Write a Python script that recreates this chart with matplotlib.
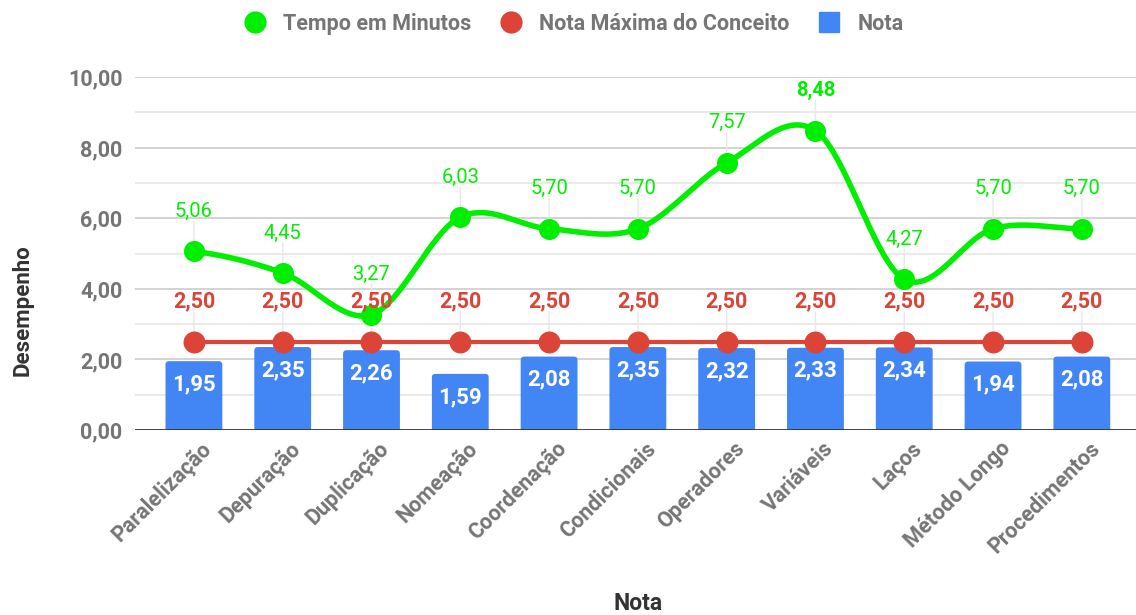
import numpy as np
import matplotlib
matplotlib.use("Agg")
import matplotlib.pyplot as plt
import matplotlib.transforms as mtransforms
from matplotlib.lines import Line2D
from matplotlib.patches import FancyBboxPatch

categorias = ["Paralelização", "Depuração", "Duplicação", "Nomeação", "Coordenação",
              "Condicionais", "Operadores", "Variáveis", "Laços", "Método Longo", "Procedimentos"]
tempo = [5.06, 4.45, 3.27, 6.03, 5.70, 5.70, 7.57, 8.48, 4.27, 5.70, 5.70]
nota_max = [2.50] * 11
nota = [1.95, 2.35, 2.26, 1.59, 2.08, 2.35, 2.32, 2.33, 2.34, 1.94, 2.08]
y_ticks = [0, 2, 4, 6, 8, 10]

VERDE = "#00ee00"
VERMELHO = "#db4437"
AZUL = "#4285f4"
CINZA = "#757575"

plt.rcParams['font.family'] = ['Roboto', 'DejaVu Sans']


def fmt(v):
    return f"{v:.2f}".replace(".", ",")


def catmull_rom(xs, ys, n=40):
    # curva suave passando pelos pontos (como o curveType 'function' do Google)
    xs = np.asarray(xs, float)
    ys = np.asarray(ys, float)
    px = np.concatenate([[2 * xs[0] - xs[1]], xs, [2 * xs[-1] - xs[-2]]])
    py = np.concatenate([[ys[0]], ys, [ys[-1]]])
    out_x, out_y = [], []
    t = np.linspace(0, 1, n)
    for i in range(1, len(px) - 2):
        p0, p1, p2, p3 = py[i - 1], py[i], py[i + 1], py[i + 2]
        m1 = (p2 - p0) / 2
        m2 = (p3 - p1) / 2
        h00 = 2 * t**3 - 3 * t**2 + 1
        h10 = t**3 - 2 * t**2 + t
        h01 = -2 * t**3 + 3 * t**2
        h11 = t**3 - t**2
        out_y.extend(h00 * p1 + h10 * m1 + h01 * p2 + h11 * m2)
        out_x.extend(px[i] + t * (px[i + 1] - px[i]))
    return np.array(out_x), np.array(out_y)


fig = plt.figure(figsize=(11.36, 6.15), dpi=100)
ax = fig.add_axes([0.1188, 0.3008, 0.8812, 0.574])

x = np.arange(len(categorias))

# grade
for v in np.arange(1, 11):
    cor = "#cccccc" if v % 2 == 0 else "#e6e6e6"
    ax.axhline(v, color=cor, lw=1.2, zorder=0)
ax.axhline(0, color="#333333", lw=2, zorder=4)

# barras (com cantos arredondados)
barras = ax.bar(x, nota, width=0.64, color=AZUL, zorder=2)
for b in barras:
    bx, bw, bh = b.get_x(), b.get_width(), b.get_height()
    p = FancyBboxPatch((bx, -0.3), bw, bh + 0.3, boxstyle="round,pad=0,rounding_size=0.04",
                       mutation_aspect=2.5, fc=AZUL, ec="none", zorder=2)
    ax.add_patch(p)
    b.set_visible(False)
for i, v in enumerate(nota):
    ax.annotate(fmt(v), xy=(i, v), xytext=(0, -23), textcoords="offset pixels",
                ha="center", va="center", color="white", fontsize=16, fontweight="bold", zorder=6)

# linha vermelha
ax.plot(x, nota_max, color=VERMELHO, lw=3, zorder=3)
ax.scatter(x, nota_max, s=250, color=VERMELHO, zorder=3, linewidths=0)

# curva verde
cx, cy = catmull_rom(x, tempo)
ax.plot(cx, cy, color=VERDE, lw=4, zorder=5, solid_capstyle="round")
ax.scatter(x, tempo, s=230, color=VERDE, zorder=5, linewidths=0)

# rótulos com linhas guia
for i in range(len(categorias)):
    for v, cor, peso, tam in [(tempo[i], VERDE, "bold" if tempo[i] == max(tempo) else "normal", 14.5),
                              (nota_max[i], VERMELHO, "bold", 15.5)]:
        ax.annotate("", xy=(i, v), xytext=(0, 30), textcoords="offset pixels",
                    arrowprops=dict(arrowstyle="-", color="#e8e8e8", lw=1, shrinkA=0, shrinkB=0),
                    zorder=1)
        ax.annotate(fmt(v), xy=(i, v), xytext=(0, 40), textcoords="offset pixels",
                    ha="center", va="center", color=cor, fontsize=tam, fontweight=peso, zorder=7)

ax.set_xlim(-0.664, 10.61)
ax.set_ylim(0, 10)
ax.set_yticks(y_ticks)
ax.set_yticklabels([fmt(v) for v in y_ticks], color=CINZA, fontsize=15.5, fontweight="bold")
ax.set_xticks(x)
ax.set_xticklabels(categorias, rotation=45, ha="right", rotation_mode="anchor",
                   color=CINZA, fontsize=15.5, fontweight="bold")
ax.tick_params(axis="both", length=0)
ax.tick_params(axis="y", pad=9)
ax.tick_params(axis="x", pad=4)
desloc = mtransforms.ScaledTranslation(0.07, -0.02, fig.dpi_scale_trans)
for lbl in ax.get_xticklabels():
    lbl.set_transform(lbl.get_transform() + desloc)
for s in ax.spines.values():
    s.set_visible(False)

ax.set_ylabel("Desempenho", fontsize=16, fontweight="bold", color="#333333")
ax.yaxis.set_label_coords(-0.101, 0.34)
fig.text(0.5616, 0.0195, "Nota", ha="center", va="center", fontsize=16.5, fontweight="bold", color="#333333")

legenda = [
    Line2D([], [], marker="o", ls="", color=VERDE, markersize=15, label="Tempo em Minutos"),
    Line2D([], [], marker="o", ls="", color=VERMELHO, markersize=15, label="Nota Máxima do Conceito"),
    Line2D([], [], marker="s", ls="", color=AZUL, markersize=15, label="Nota"),
]
leg = fig.legend(handles=legenda, loc="center", bbox_to_anchor=(0.5004, 0.961), ncol=3, frameon=False,
                 fontsize=15.5, handletextpad=0.3, columnspacing=0.85)
for t in leg.get_texts():
    t.set_color(CINZA)
    t.set_fontweight("bold")

fig.savefig("out.png", dpi=100)
